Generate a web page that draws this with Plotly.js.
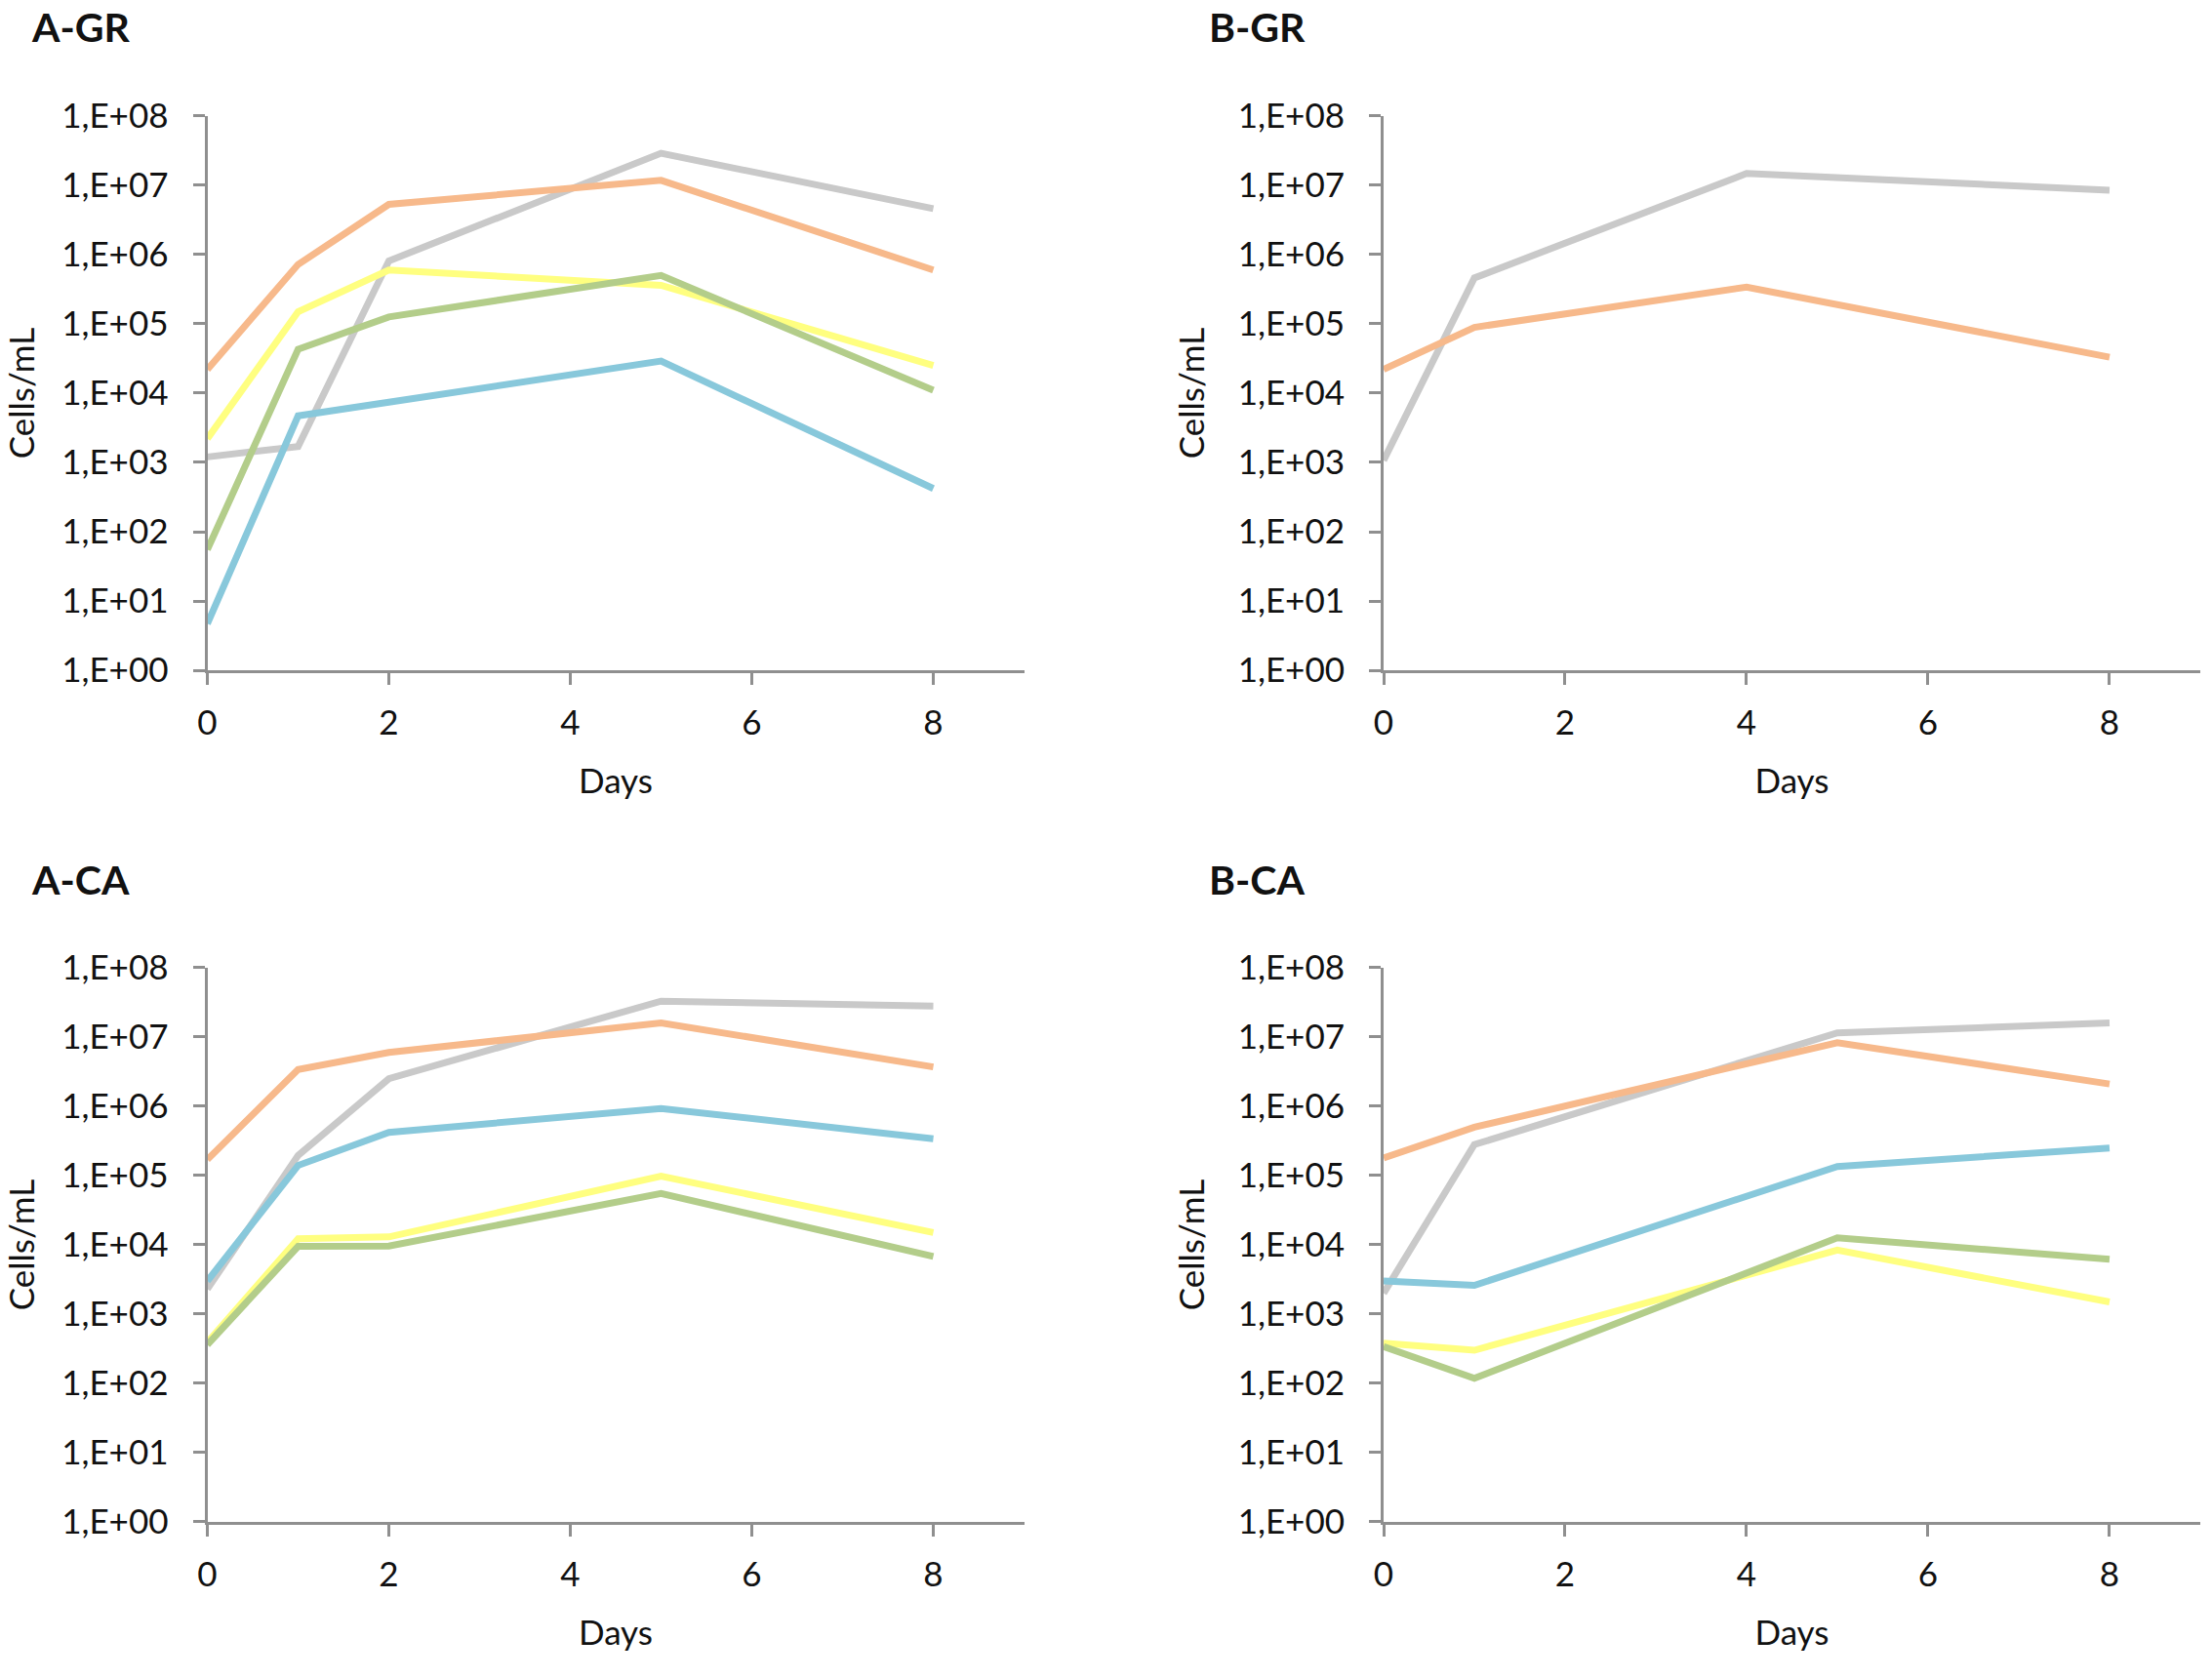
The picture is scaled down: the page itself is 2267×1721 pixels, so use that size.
<!DOCTYPE html>
<html>
<head>
<meta charset="utf-8">
<script src="https://cdn.plot.ly/plotly-3.0.1.min.js"></script>
<style>html,body{margin:0;padding:0;background:#fff;}#chart{width:2267px;height:1721px;}</style>
</head>
<body>
<div id="chart"></div>
<script>
// ---- Data ----
const panelTitles = ["A-GR", "B-GR", "A-CA", "B-CA"];
const yTickVals = [1, 10, 100, 1000, 10000, 100000, 1000000, 10000000, 100000000];
const yTickText = ["1,E+00", "1,E+01", "1,E+02", "1,E+03", "1,E+04", "1,E+05", "1,E+06", "1,E+07", "1,E+08"];
const xTickVals = [0, 2, 4, 6, 8];
const xTitle = "Days";
const yTitle = "Cells/mL";

// A-GR
const daysAGR = [0, 1, 2, 5, 8];
const aGR_gray   = [1.2e3, 1.7e3, 8.1e5, 2.9e7, 4.6e6];
const aGR_orange = [2.2e4, 7.2e5, 5.3e6, 1.18e7, 6.0e5];
const aGR_yellow = [2.2e3, 1.5e5, 6.0e5, 3.6e5, 2.5e4];
const aGR_green  = [55, 4.3e4, 1.26e5, 5.0e5, 1.1e4];
const aGR_blue   = [4.7, 4.7e3, 7.4e3, 2.9e4, 4.2e2];

// B-GR
const daysBGR = [0, 1, 4, 8];
const bGR_gray   = [1.07e3, 4.6e5, 1.48e7, 8.5e6];
const bGR_orange = [2.2e4, 8.9e4, 3.4e5, 3.3e4];

// A-CA
const daysACA = [0, 1, 2, 5, 8];
const aCA_gray   = [2.3e3, 1.95e5, 2.5e6, 3.3e7, 2.8e7];
const aCA_orange = [1.7e5, 3.4e6, 6.0e6, 1.6e7, 3.7e6];
const aCA_yellow = [3.9e2, 1.22e4, 1.3e4, 9.8e4, 1.5e4];
const aCA_green  = [3.6e2, 9.5e3, 9.6e3, 5.5e4, 6.8e3];
const aCA_blue   = [3.0e3, 1.4e5, 4.2e5, 9.3e5, 3.4e5];

// B-CA
const daysBCA = [0, 1, 5, 8];
const bCA_gray   = [2.0e3, 2.8e5, 1.15e7, 1.6e7];
const bCA_orange = [1.8e5, 5.0e5, 8.3e6, 2.1e6];
const bCA_yellow = [3.8e2, 3.0e2, 8.4e3, 1.5e3];
const bCA_green  = [3.4e2, 1.18e2, 1.26e4, 6.2e3];
const bCA_blue   = [3.0e3, 2.6e3, 1.35e5, 2.5e5];

// ---- Styles ----
const COL = {gray: "#c9c9c9", orange: "#f7b98b", yellow: "#ffff80", green: "#b3cd8a", blue: "#88c8db"};
const LW = 7;
const AX = "#8f8f8f";
const FONT = "Lato, 'Open Sans', sans-serif";

function tr(x, y, color, xa, ya) {
  return {x: x, y: y, type: "scatter", mode: "lines", line: {color: color, width: LW},
          xaxis: xa, yaxis: ya, showlegend: false, hoverinfo: "skip"};
}

const data = [
  tr(daysAGR, aGR_gray, COL.gray, "x", "y"),
  tr(daysAGR, aGR_orange, COL.orange, "x", "y"),
  tr(daysAGR, aGR_yellow, COL.yellow, "x", "y"),
  tr(daysAGR, aGR_green, COL.green, "x", "y"),
  tr(daysAGR, aGR_blue, COL.blue, "x", "y"),

  tr(daysBGR, bGR_gray, COL.gray, "x2", "y2"),
  tr(daysBGR, bGR_orange, COL.orange, "x2", "y2"),

  tr(daysACA, aCA_gray, COL.gray, "x3", "y3"),
  tr(daysACA, aCA_orange, COL.orange, "x3", "y3"),
  tr(daysACA, aCA_yellow, COL.yellow, "x3", "y3"),
  tr(daysACA, aCA_green, COL.green, "x3", "y3"),
  tr(daysACA, aCA_blue, COL.blue, "x3", "y3"),

  tr(daysBCA, bCA_gray, COL.gray, "x4", "y4"),
  tr(daysBCA, bCA_orange, COL.orange, "x4", "y4"),
  tr(daysBCA, bCA_yellow, COL.yellow, "x4", "y4"),
  tr(daysBCA, bCA_green, COL.green, "x4", "y4"),
  tr(daysBCA, bCA_blue, COL.blue, "x4", "y4")
];

function xAxis(domain, anchor) {
  return {domain: domain, anchor: anchor, range: [0, 9], tickvals: xTickVals,
    ticks: "outside", ticklen: 12, tickwidth: 3, tickcolor: AX,
    showline: true, linecolor: AX, linewidth: 3, showgrid: false, zeroline: false,
    tickfont: {family: FONT, size: 35, color: "#111"}, ticklabelstandoff: 9,
    title: {text: xTitle, font: {family: FONT, size: 35, color: "#111"}, standoff: 30},
    automargin: false, fixedrange: true};
}
function yAxis(domain, anchor) {
  return {domain: domain, anchor: anchor, type: "log", range: [0, 8],
    tickvals: yTickVals, ticktext: yTickText,
    ticks: "outside", ticklen: 12, tickwidth: 3, tickcolor: AX,
    showline: true, linecolor: AX, linewidth: 3, showgrid: false, zeroline: false,
    tickfont: {family: FONT, size: 35, color: "#111"}, ticklabelstandoff: 18,
    title: {text: yTitle, font: {family: FONT, size: 35, color: "#111"}, standoff: 24},
    automargin: false, fixedrange: true};
}

const xL = [0.09374, 0.46295], xR = [0.6255, 0.9947];
const yT = [0.6008, 0.9309], yB = [0.0936, 0.4236];

function ptitle(text, x, y) {
  return {text: "<b>" + text + "</b>", xref: "paper", yref: "paper", x: x, y: y,
          xanchor: "left", yanchor: "middle", showarrow: false,
          font: {family: FONT, size: 41, color: "#111"}};
}

const layout = {
  width: 2267, height: 1721,
  margin: {l: 0, r: 0, t: 0, b: 0},
  paper_bgcolor: "#ffffff", plot_bgcolor: "#ffffff",
  font: {family: FONT, color: "#111"},
  xaxis: xAxis(xL, "y"), yaxis: yAxis(yT, "x"),
  xaxis2: xAxis(xR, "y2"), yaxis2: yAxis(yT, "x2"),
  xaxis3: xAxis(xL, "y3"), yaxis3: yAxis(yB, "x3"),
  xaxis4: xAxis(xR, "y4"), yaxis4: yAxis(yB, "x4"),
  annotations: [
    ptitle(panelTitles[0], 30 / 2267, 1 - 27 / 1721),
    ptitle(panelTitles[1], 1237 / 2267, 1 - 27 / 1721),
    ptitle(panelTitles[2], 30 / 2267, 1 - 901 / 1721),
    ptitle(panelTitles[3], 1237 / 2267, 1 - 901 / 1721)
  ],
  showlegend: false
};

Plotly.newPlot("chart", data, layout, {staticPlot: true, displayModeBar: false});
</script>
</body>
</html>
